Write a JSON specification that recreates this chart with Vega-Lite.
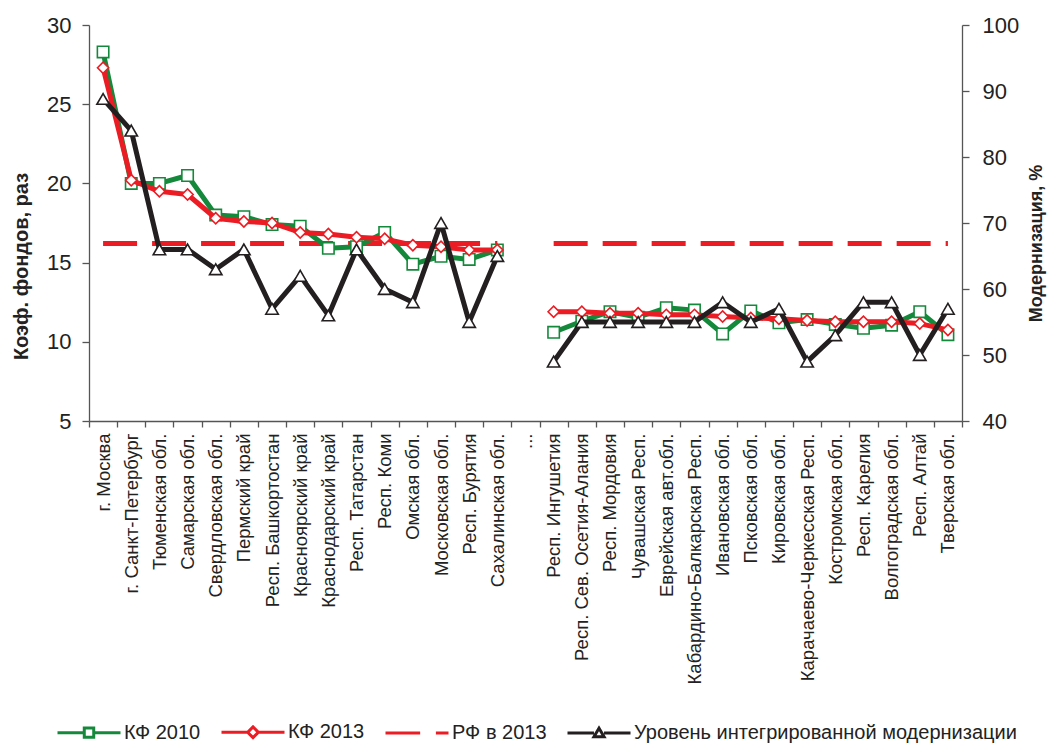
{
  "$schema": "https://vega.github.io/schema/vega-lite/v6.json",
  "width": 873,
  "height": 396,
  "padding": {"left": 11, "top": 14, "right": 2, "bottom": 2},
  "background": "white",
  "config": {
    "view": {"stroke": null},
    "font": "Liberation Sans",
    "axis": {"grid": false, "domainColor": "#555555", "tickColor": "#555555", "labelColor": "#222222", "titleColor": "#222222", "labelFont": "Liberation Sans", "titleFont": "Liberation Sans", "domainWidth": 1.3, "tickWidth": 1.3},
    "legend": {"labelFont": "Liberation Sans", "labelColor": "#222222"}
  },
  "data": {
    "values": [
      {"region": "г. Москва", "grp": "A", "kf2010": 28.3, "kf2013": 27.3, "rf2013": 16.2, "mod": 88.8},
      {"region": "г. Санкт-Петербург", "grp": "A", "kf2010": 20.0, "kf2013": 20.2, "rf2013": 16.2, "mod": 84},
      {"region": "Тюменская обл.", "grp": "A", "kf2010": 20.0, "kf2013": 19.5, "rf2013": 16.2, "mod": 66},
      {"region": "Самарская обл.", "grp": "A", "kf2010": 20.5, "kf2013": 19.3, "rf2013": 16.2, "mod": 66},
      {"region": "Свердловская обл.", "grp": "A", "kf2010": 18.0, "kf2013": 17.8, "rf2013": 16.2, "mod": 63},
      {"region": "Пермский край", "grp": "A", "kf2010": 17.9, "kf2013": 17.6, "rf2013": 16.2, "mod": 66},
      {"region": "Респ. Башкортостан", "grp": "A", "kf2010": 17.4, "kf2013": 17.5, "rf2013": 16.2, "mod": 57},
      {"region": "Красноярский край", "grp": "A", "kf2010": 17.3, "kf2013": 16.9, "rf2013": 16.2, "mod": 62},
      {"region": "Краснодарский край", "grp": "A", "kf2010": 15.9, "kf2013": 16.8, "rf2013": 16.2, "mod": 56},
      {"region": "Респ. Татарстан", "grp": "A", "kf2010": 16.0, "kf2013": 16.6, "rf2013": 16.2, "mod": 66},
      {"region": "Респ. Коми", "grp": "A", "kf2010": 16.9, "kf2013": 16.5, "rf2013": 16.2, "mod": 60},
      {"region": "Омская обл.", "grp": "A", "kf2010": 14.9, "kf2013": 16.1, "rf2013": 16.2, "mod": 58},
      {"region": "Московская обл.", "grp": "A", "kf2010": 15.4, "kf2013": 16.0, "rf2013": 16.2, "mod": 70},
      {"region": "Респ. Бурятия", "grp": "A", "kf2010": 15.2, "kf2013": 15.8, "rf2013": 16.2, "mod": 55},
      {"region": "Сахалинская обл.", "grp": "A", "kf2010": 15.8, "kf2013": 15.8, "rf2013": 16.2, "mod": 65},
      {"region": "...", "grp": "gap", "kf2010": null, "kf2013": null, "rf2013": null, "mod": null},
      {"region": "Респ. Ингушетия", "grp": "B", "kf2010": 10.6, "kf2013": 11.9, "rf2013": 16.2, "mod": 49},
      {"region": "Респ. Сев. Осетия-Алания", "grp": "B", "kf2010": 11.3, "kf2013": 11.9, "rf2013": 16.2, "mod": 55},
      {"region": "Респ. Мордовия", "grp": "B", "kf2010": 11.9, "kf2013": 11.8, "rf2013": 16.2, "mod": 55},
      {"region": "Чувашская Респ.", "grp": "B", "kf2010": 11.55, "kf2013": 11.8, "rf2013": 16.2, "mod": 55},
      {"region": "Еврейская авт.обл.", "grp": "B", "kf2010": 12.15, "kf2013": 11.7, "rf2013": 16.2, "mod": 55},
      {"region": "Кабардино-Балкарская Респ.", "grp": "B", "kf2010": 12.0, "kf2013": 11.7, "rf2013": 16.2, "mod": 55},
      {"region": "Ивановская обл.", "grp": "B", "kf2010": 10.5, "kf2013": 11.6, "rf2013": 16.2, "mod": 58},
      {"region": "Псковская обл.", "grp": "B", "kf2010": 11.95, "kf2013": 11.5, "rf2013": 16.2, "mod": 55},
      {"region": "Кировская обл.", "grp": "B", "kf2010": 11.2, "kf2013": 11.45, "rf2013": 16.2, "mod": 57},
      {"region": "Карачаево-Черкесская Респ.", "grp": "B", "kf2010": 11.4, "kf2013": 11.35, "rf2013": 16.2, "mod": 49},
      {"region": "Костромская обл.", "grp": "B", "kf2010": 11.1, "kf2013": 11.27, "rf2013": 16.2, "mod": 53},
      {"region": "Респ. Карелия", "grp": "B", "kf2010": 10.85, "kf2013": 11.27, "rf2013": 16.2, "mod": 58},
      {"region": "Волгоградская обл.", "grp": "B", "kf2010": 11.05, "kf2013": 11.27, "rf2013": 16.2, "mod": 58},
      {"region": "Респ. Алтай", "grp": "B", "kf2010": 11.9, "kf2013": 11.15, "rf2013": 16.2, "mod": 50},
      {"region": "Тверская обл.", "grp": "B", "kf2010": 10.45, "kf2013": 10.75, "rf2013": 16.2, "mod": 57}
    ]
  },
  "encoding": {
    "x": {
      "field": "region", "type": "nominal", "sort": null, "bandPosition": 0.5,
      "scale": {"type": "band", "paddingInner": 0, "paddingOuter": 0,
        "domain": ["г. Москва", "г. Санкт-Петербург", "Тюменская обл.", "Самарская обл.", "Свердловская обл.", "Пермский край", "Респ. Башкортостан", "Красноярский край", "Краснодарский край", "Респ. Татарстан", "Респ. Коми", "Омская обл.", "Московская обл.", "Респ. Бурятия", "Сахалинская обл.", "...", "Респ. Ингушетия", "Респ. Сев. Осетия-Алания", "Респ. Мордовия", "Чувашская Респ.", "Еврейская авт.обл.", "Кабардино-Балкарская Респ.", "Ивановская обл.", "Псковская обл.", "Кировская обл.", "Карачаево-Черкесская Респ.", "Костромская обл.", "Респ. Карелия", "Волгоградская обл.", "Респ. Алтай", "Тверская обл."]},
      "axis": {"title": null, "tickBand": "extent", "labelAngle": -90, "labelAlign": "right", "labelBaseline": "middle", "labelFontSize": 18.5, "labelPadding": 6, "tickSize": 6, "labelLimit": 400}
    },
    "detail": {"field": "grp", "type": "nominal"}
  },
  "layer": [
    {
      "encoding": {
        "y": {"type": "quantitative", "scale": {"domain": [5, 30], "nice": false, "zero": false},
          "axis": {"title": "Коэф. фондов, раз", "titleFontSize": 20, "titleFontWeight": "bold", "titleY": 241, "titlePadding": 15, "values": [5, 10, 15, 20, 25, 30], "labelFontSize": 22, "tickSize": 7, "labelPadding": 11}}
      },
      "layer": [
        {"mark": {"type": "line", "color": "#ec1c24", "strokeWidth": 5, "strokeDash": [34, 15]}, "encoding": {"y": {"field": "rf2013", "type": "quantitative"}}},
        {"mark": {"type": "line", "color": "#15893b", "strokeWidth": 5, "strokeJoin": "round"}, "encoding": {"y": {"field": "kf2010", "type": "quantitative"}}},
        {"mark": {"type": "point", "shape": "square", "size": 130, "filled": true, "fill": "white", "stroke": "#15893b", "strokeWidth": 1.6, "opacity": 1}, "encoding": {"y": {"field": "kf2010", "type": "quantitative"}}},
        {"mark": {"type": "line", "color": "#ec1c24", "strokeWidth": 5, "strokeJoin": "round"}, "encoding": {"y": {"field": "kf2013", "type": "quantitative"}}},
        {"mark": {"type": "point", "shape": "diamond", "size": 125, "filled": true, "fill": "white", "stroke": "#ec1c24", "strokeWidth": 1.6, "opacity": 1}, "encoding": {"y": {"field": "kf2013", "type": "quantitative"}}}
      ]
    },
    {
      "encoding": {
        "y": {"field": "mod", "type": "quantitative", "scale": {"domain": [40, 100], "nice": false, "zero": false},
          "axis": {"orient": "right", "title": "Модернизация, %", "titleAngle": -90, "titleFontSize": 18, "titleFontWeight": "bold", "titleY": 218, "titlePadding": 27, "values": [40, 50, 60, 70, 80, 90, 100], "labelFontSize": 22, "tickSize": 7, "labelPadding": 13}}
      },
      "layer": [
        {"mark": {"type": "line", "color": "#231f20", "strokeWidth": 5, "strokeJoin": "round"}},
        {"mark": {"type": "point", "shape": "triangle-up", "size": 155, "filled": true, "fill": "white", "stroke": "#231f20", "strokeWidth": 1.6, "opacity": 1}}
      ]
    },
    {
      "data": {"values": [{"series": "КФ 2010"}, {"series": "КФ 2013"}, {"series": "РФ в 2013"}, {"series": "Уровень интегрированной модернизации"}]},
      "mark": {"type": "point", "opacity": 0, "filled": false},
      "encoding": {
        "x": {"value": 0},
        "detail": null,
        "shape": {"field": "series", "type": "nominal", "sort": null,
          "scale": {"domain": ["КФ 2010", "КФ 2013", "РФ в 2013", "Уровень интегрированной модернизации"],
            "range": ["M-1,0L-0.15,0M-0.15,-0.15L0.15,-0.15L0.15,0.15L-0.15,0.15ZM0.15,0L1,0", "M-1,0L-0.17,0M-0.17,0L0,-0.17L0.17,0L0,0.17ZM0.17,0L1,0", "M-1,0L0.1,0M0.6,0L1,0", "M-1,0L-0.16,0M-0.16,0.12L0,-0.15L0.16,0.12ZM0.16,0L1,0"]},
          "legend": {"orient": "none", "legendX": -33, "legendY": 674, "direction": "horizontal", "columns": 4, "title": null, "symbolSize": 3969, "symbolStrokeWidth": 3, "symbolOpacity": 1, "labelFontSize": 20, "labelOffset": 2, "labelLimit": 600, "columnPadding": 14, "encode": {"symbols": {"update": {"fill": {"value": "white"}, "opacity": {"value": 1}}}}}},
        "stroke": {"field": "series", "type": "nominal", "sort": null,
          "scale": {"domain": ["КФ 2010", "КФ 2013", "РФ в 2013", "Уровень интегрированной модернизации"], "range": ["#15893b", "#ec1c24", "#ec1c24", "#231f20"]},
          "legend": {"orient": "none", "legendX": -33, "legendY": 674, "direction": "horizontal", "columns": 4, "title": null, "symbolSize": 3969, "symbolStrokeWidth": 3, "symbolOpacity": 1, "labelFontSize": 20, "labelOffset": 2, "labelLimit": 600, "columnPadding": 14, "encode": {"symbols": {"update": {"fill": {"value": "white"}, "opacity": {"value": 1}}}}}}
      }
    }
  ],
  "resolve": {"scale": {"y": "independent"}}
}
